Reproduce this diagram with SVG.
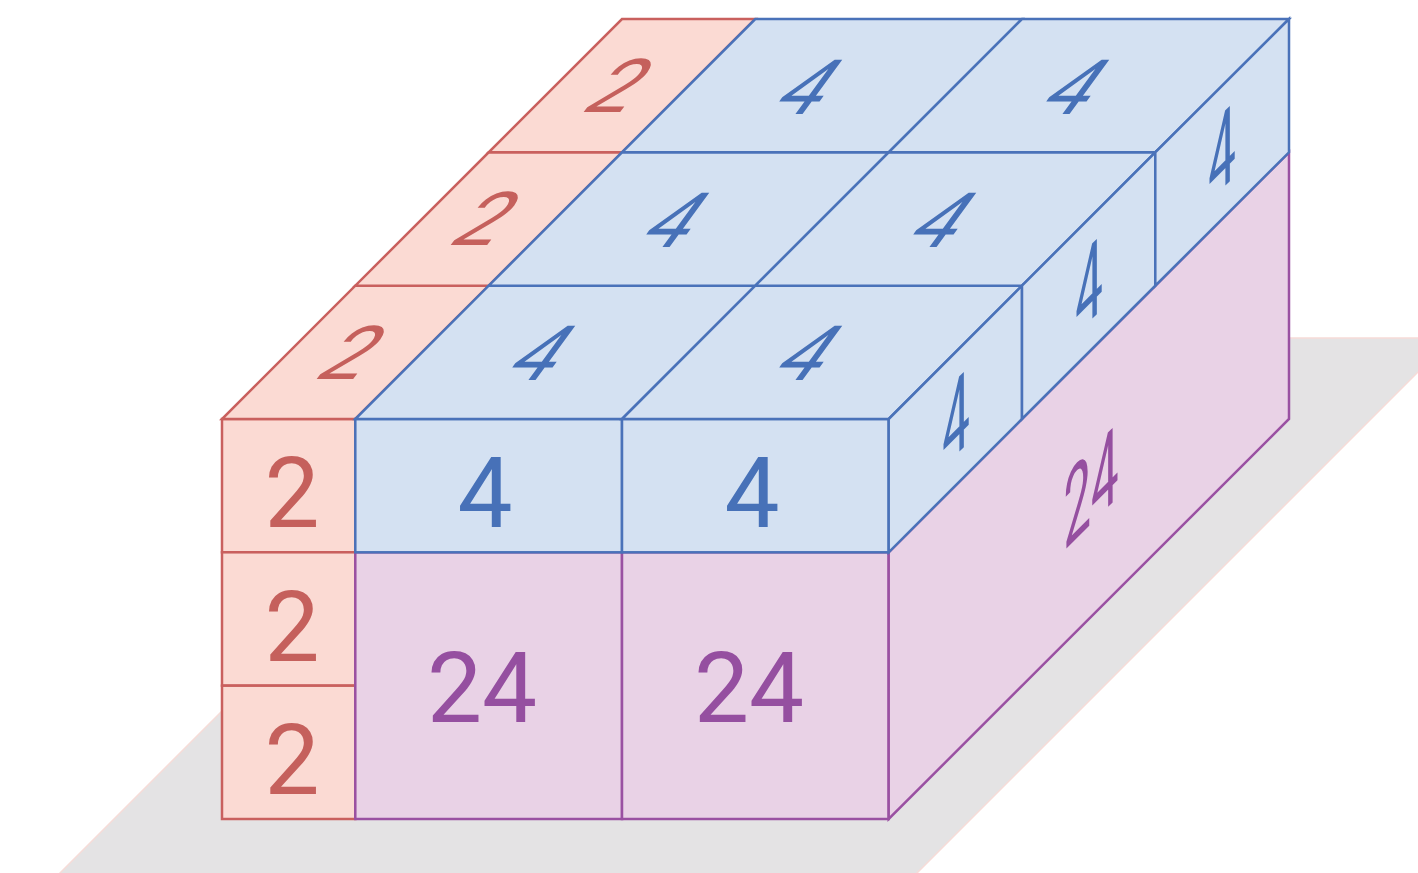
<svg xmlns="http://www.w3.org/2000/svg" width="1418" height="873" viewBox="0 0 1418 873">
<style>
.sh{fill:#e4e3e4;stroke:#f6dcd8;stroke-width:1.5}
.r{fill:#fbdad3;stroke:#c9605e;stroke-width:2.5}
.b{fill:#d4e1f2;stroke:#4a72b9;stroke-width:2.5}
.p{fill:#e9d2e6;stroke:#9a51a2;stroke-width:2.5}
text{font-family:Roboto,"Liberation Sans",sans-serif;font-size:98px;text-anchor:middle}
.tr{fill:#c5605c}
.tb{fill:#4771b8}
.tp{fill:#954fa0}
</style>
<rect width="1418" height="873" fill="#ffffff"/>
<polygon class="sh" points="595,338 1452,338 913,877 56,877"/>

<g id="red-front-1"><rect class="r" x="222" y="419" width="133.3" height="133.3"/><text class="tr" x="292" y="527">2</text></g>
<g id="red-front-2"><rect class="r" x="222" y="552.3" width="133.3" height="133.3"/><text class="tr" x="292" y="661">2</text></g>
<g id="red-front-3"><rect class="r" x="222" y="685.7" width="133.3" height="133.3"/><text class="tr" x="292" y="794">2</text></g>

<g id="red-top-1"><polygon class="r" points="222,419 355.3,419 488.7,285.7 355.3,285.7"/><text class="tr" style="font-size:98px" transform="matrix(0.8,0,-0.57,0.76,334,379)" x="0" y="0">2</text></g>
<g id="red-top-2"><polygon class="r" points="355.3,285.7 488.7,285.7 622,152.3 488.7,152.3"/><text class="tr" style="font-size:98px" transform="matrix(0.8,0,-0.57,0.76,468,245)" x="0" y="0">2</text></g>
<g id="red-top-3"><polygon class="r" points="488.7,152.3 622,152.3 755.3,19 622,19"/><text class="tr" style="font-size:98px" transform="matrix(0.8,0,-0.57,0.76,601,112)" x="0" y="0">2</text></g>

<g id="purple-front-1"><rect class="p" x="355.3" y="552.3" width="266.7" height="266.7"/><text class="tp" x="482" y="722">24</text></g>
<g id="purple-front-2"><rect class="p" x="622" y="552.3" width="266.7" height="266.7"/><text class="tp" x="749" y="722">24</text></g>
<g id="purple-right"><polygon class="p" points="888.7,552.3 888.7,819 1289,419 1289,152.3"/><text class="tp" transform="matrix(0.5,-0.5,0,1.07,1091,524)" x="0" y="0">24</text></g>

<g id="blue-front-1"><rect class="b" x="355.3" y="419" width="266.7" height="133.3"/><text class="tb" x="485" y="527">4</text></g>
<g id="blue-front-2"><rect class="b" x="622" y="419" width="266.7" height="133.3"/><text class="tb" x="752" y="527">4</text></g>

<g id="blue-top-1-1"><polygon class="b" points="355.3,419 622,419 755.3,285.7 488.7,285.7"/><text class="tb" transform="matrix(0.8,0,-0.57,0.78,523,380)" x="0" y="0">4</text></g>
<g id="blue-top-1-2"><polygon class="b" points="622,419 888.7,419 1022,285.7 755.3,285.7"/><text class="tb" transform="matrix(0.8,0,-0.57,0.78,790,380)" x="0" y="0">4</text></g>
<g id="blue-top-2-1"><polygon class="b" points="488.7,285.7 755.3,285.7 888.7,152.3 622,152.3"/><text class="tb" transform="matrix(0.8,0,-0.57,0.78,657,247)" x="0" y="0">4</text></g>
<g id="blue-top-2-2"><polygon class="b" points="755.3,285.7 1022,285.7 1155.3,152.3 888.7,152.3"/><text class="tb" transform="matrix(0.8,0,-0.57,0.78,924,247)" x="0" y="0">4</text></g>
<g id="blue-top-3-1"><polygon class="b" points="622,152.3 888.7,152.3 1022,19 755.3,19"/><text class="tb" transform="matrix(0.8,0,-0.57,0.78,790,114)" x="0" y="0">4</text></g>
<g id="blue-top-3-2"><polygon class="b" points="888.7,152.3 1155.3,152.3 1289,19 1022,19"/><text class="tb" transform="matrix(0.8,0,-0.57,0.78,1057,114)" x="0" y="0">4</text></g>

<g id="blue-right-1"><polygon class="b" points="888.7,419 888.7,552.3 1022,419 1022,285.7"/><text class="tb" transform="matrix(0.5,-0.5,0,1.08,956,455)" x="0" y="0">4</text></g>
<g id="blue-right-2"><polygon class="b" points="1022,285.7 1022,419 1155.3,285.7 1155.3,152.3"/><text class="tb" transform="matrix(0.5,-0.5,0,1.08,1089,322)" x="0" y="0">4</text></g>
<g id="blue-right-3"><polygon class="b" points="1155.3,152.3 1155.3,285.7 1289,152.3 1289,19"/><text class="tb" transform="matrix(0.5,-0.5,0,1.08,1222,189)" x="0" y="0">4</text></g>

<g id="connectors"></g>
</svg>
